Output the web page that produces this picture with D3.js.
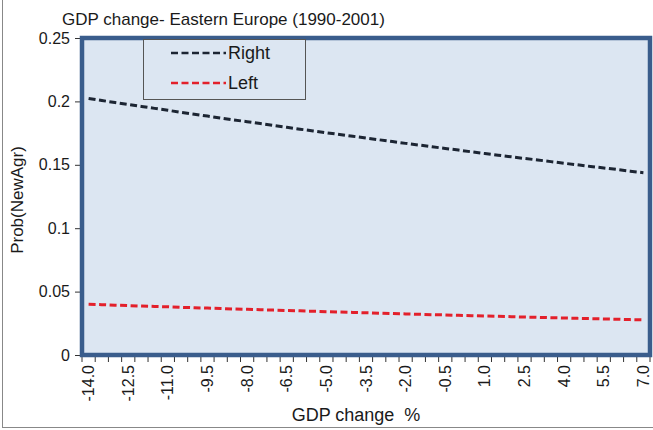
<!DOCTYPE html>
<html><head><meta charset="utf-8">
<script src="https://cdn.jsdelivr.net/npm/d3@7"></script>
<style>body{margin:0;background:#fff;} text{font-family:Arial,"Liberation Sans",sans-serif;fill:#1a1a1a;}</style>
</head><body><svg id="c" width="653" height="430"></svg>
<script>
const categories = ["-14.0","-13.5","-13.0","-12.5","-12.0","-11.5","-11.0","-10.5","-10.0","-9.5","-9.0","-8.5","-8.0","-7.5","-7.0","-6.5","-6.0","-5.5","-5.0","-4.5","-4.0","-3.5","-3.0","-2.5","-2.0","-1.5","-1.0","-0.5","0.0","0.5","1.0","1.5","2.0","2.5","3.0","3.5","4.0","4.5","5.0","5.5","6.0","6.5","7.0"];
const rightValues = [0.2023,0.2007,0.1991,0.1976,0.1960,0.1945,0.1930,0.1914,0.1899,0.1884,0.1869,0.1854,0.1840,0.1825,0.1810,0.1796,0.1781,0.1767,0.1753,0.1739,0.1725,0.1711,0.1697,0.1683,0.1669,0.1656,0.1642,0.1629,0.1616,0.1602,0.1589,0.1576,0.1563,0.1550,0.1538,0.1525,0.1512,0.1500,0.1487,0.1475,0.1463,0.1450,0.1438];
const leftValues = [0.0400,0.0397,0.0393,0.0390,0.0386,0.0383,0.0380,0.0376,0.0373,0.0370,0.0367,0.0363,0.0360,0.0357,0.0354,0.0351,0.0348,0.0345,0.0342,0.0339,0.0336,0.0333,0.0330,0.0327,0.0324,0.0321,0.0318,0.0316,0.0313,0.0310,0.0307,0.0305,0.0302,0.0299,0.0297,0.0294,0.0292,0.0289,0.0287,0.0284,0.0282,0.0279,0.0277];
const yTicks = [0,0.05,0.1,0.15,0.2,0.25];
const yTickLabels = ["0","0.05","0.1","0.15","0.2","0.25"];
const xLabelEvery = 3;
const seriesNames = ["Right","Left"];
const seriesColors = ["#1c2533","#e3202b"];
const title = "GDP change- Eastern Europe (1990-2001)";
const xTitle = "GDP change  %";
const yTitle = "Prob(NewAgr)";

const svg = d3.select("#c");
const L=82, R=650, T=38, B=355;
const x = d3.scaleBand().domain(categories).range([L,R]).padding(0);
const y = d3.scaleLinear().domain([0,0.25]).range([B,T]);

// outer frame lines
svg.append("line").attr("x1",2.5).attr("x2",2.5).attr("y1",0).attr("y2",427).attr("stroke","#888").attr("stroke-width",1);
svg.append("line").attr("x1",2).attr("x2",653).attr("y1",427.5).attr("y2",427.5).attr("stroke","#888").attr("stroke-width",1);

// plot area
svg.append("rect").attr("x",L).attr("y",T).attr("width",R-L).attr("height",B-T).attr("fill","#dce6f2");

// y axis
const yAxis = d3.axisLeft(y).tickValues(yTicks).tickFormat((d,i)=>yTickLabels[i]).tickSize(5).tickPadding(5);
const gy = svg.append("g").attr("transform",`translate(${L-2},0)`).call(yAxis);
gy.select(".domain").remove();
gy.selectAll("line").attr("stroke","#333");
gy.selectAll("text").style("font-size","16px").attr("fill","#1a1a1a");

// x axis ticks at category boundaries
const bounds = categories.map(c=>x(c)).concat([R]);
svg.append("g").selectAll("line").data(bounds).join("line")
  .attr("x1",d=>d).attr("x2",d=>d).attr("y1",B+2).attr("y2",B+7).attr("stroke","#333");
svg.append("g").selectAll("text").data(categories.filter((c,i)=>i%xLabelEvery===0)).join("text")
  .attr("transform",d=>`translate(${x(d)+x.bandwidth()/2+5.5},${B+10}) rotate(-90)`)
  .attr("text-anchor","end").style("font-size","16px").text(d=>d);

// lines
const line = d3.line().x((d,i)=>x(categories[i])+x.bandwidth()/2).y(d=>y(d));
[rightValues,leftValues].forEach((vals,k)=>{
  svg.append("path").datum(vals).attr("d",line).attr("fill","none")
    .attr("stroke",seriesColors[k]).attr("stroke-width",3).attr("stroke-dasharray","7,3.5");
});

// plot border
svg.append("rect").attr("x",L).attr("y",T).attr("width",R-L).attr("height",B-T).attr("fill","none").attr("stroke","#3a5d8c").attr("stroke-width",4.5);

// legend
const lg = svg.append("g");
lg.append("rect").attr("x",143.5).attr("y",39.5).attr("width",162).attr("height",60).attr("fill","#dce6f2").attr("stroke","#555").attr("stroke-width",1);
seriesNames.forEach((n,i)=>{
  const yy = 53 + i*30;
  lg.append("line").attr("x1",171).attr("x2",226).attr("y1",yy).attr("y2",yy).attr("stroke",seriesColors[i]).attr("stroke-width",2.5).attr("stroke-dasharray","7,3.5");
  lg.append("text").attr("x",228).attr("y",yy+6).style("font-size","18px").text(n);
});

// titles
svg.append("text").attr("x",62).attr("y",25).style("font-size","17px").text(title);
svg.append("text").attr("x",356).attr("y",421).attr("text-anchor","middle").style("font-size","18px").attr("xml:space","preserve").style("white-space","pre").text(xTitle);
svg.append("text").attr("transform","translate(23,200) rotate(-90)").attr("text-anchor","middle").style("font-size","17px").text(yTitle);
</script></body></html>
